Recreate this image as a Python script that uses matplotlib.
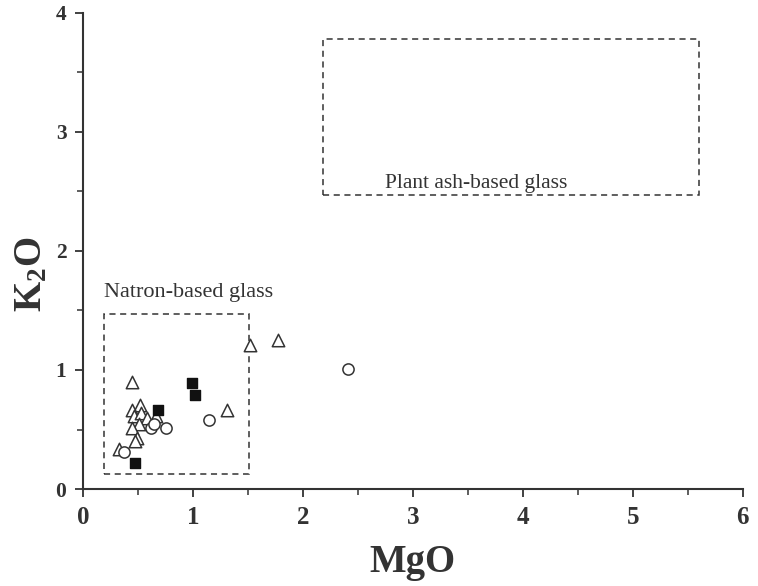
import matplotlib
matplotlib.use("Agg")
import matplotlib.pyplot as plt
from matplotlib.patches import Rectangle

plt.rcParams.update({
    "font.family": ["Liberation Serif", "DejaVu Serif"],
    "mathtext.fontset": "custom",
    "mathtext.rm": "Liberation Serif",
    "mathtext.bf": "Liberation Serif:bold",
})

# open triangles
tri_x = [0.45, 0.52, 0.45, 0.46, 0.53, 0.585, 0.66, 0.51, 0.45, 0.49, 0.47, 0.33, 1.52, 1.77, 1.31]
tri_y = [0.90, 0.71, 0.66, 0.61, 0.64, 0.60, 0.61, 0.55, 0.51, 0.43, 0.40, 0.34, 1.21, 1.25, 0.66]
# open circles
cir_x = [0.62, 0.755, 0.65, 0.37, 1.15, 2.41]
cir_y = [0.51, 0.51, 0.55, 0.31, 0.58, 1.01]
# filled squares
sq_x = [0.99, 1.02, 0.68, 0.47]
sq_y = [0.89, 0.79, 0.66, 0.22]

# reference fields (x0, x1, y0, y1)
natron_box = (0.19, 1.51, 0.13, 1.47)
plant_box = (2.18, 5.60, 2.47, 3.78)

ink = "#333333"
fig = plt.figure(figsize=(7.58, 5.86), dpi=100)
ax = fig.add_axes([0.1095, 0.1655, 0.8705, 0.8125])

for x0, x1, y0, y1 in (natron_box, plant_box):
    ax.add_patch(Rectangle((x0, y0), x1 - x0, y1 - y0, fill=False,
                           ec=ink, lw=1.1, ls=(0, (4, 3))))

ax.text(0.19, 1.65, "Natron-based glass", fontsize=16, color=ink, va="center")
ax.text(2.75, 2.57, "Plant ash-based glass", fontsize=15.5, color=ink, va="center")

ax.scatter(tri_x, tri_y, marker="^", s=80, facecolors="white", edgecolors=ink, lw=1.1, zorder=3)
ax.scatter(cir_x, cir_y, marker="o", s=65, facecolors="white", edgecolors=ink, lw=1.1, zorder=3)
ax.scatter(sq_x, sq_y, marker="s", s=60, color="#111111", zorder=4)

ax.set_xlim(0, 6)
ax.set_ylim(0, 4)
ax.set_xticks(range(0, 7))
ax.set_yticks(range(0, 5))
ax.set_xticks([i + 0.5 for i in range(6)], minor=True)
ax.set_yticks([i + 0.5 for i in range(4)], minor=True)
ax.spines["top"].set_visible(False)
ax.spines["right"].set_visible(False)
for s in ("left", "bottom"):
    ax.spines[s].set_linewidth(1.5)
    ax.spines[s].set_color(ink)
ax.tick_params(which="major", length=6, width=1.3, color=ink)
ax.tick_params(which="minor", length=4.5, width=1.1, color=ink)
ax.tick_params(axis="x", which="major", labelsize=18, pad=6)
ax.tick_params(axis="y", which="major", labelsize=15.5, pad=6)
for lab in ax.get_xticklabels() + ax.get_yticklabels():
    lab.set_fontweight("bold")
    lab.set_color(ink)

ax.set_xlabel("MgO", fontsize=28, fontweight="bold", color=ink)
ax.set_ylabel(r"$\mathbf{K_2O}$", fontsize=28, color=ink)
ax.xaxis.set_label_coords(0.5, -0.115)
ax.yaxis.set_label_coords(-0.05, 0.45)

fig.savefig("out.png", dpi=100)
